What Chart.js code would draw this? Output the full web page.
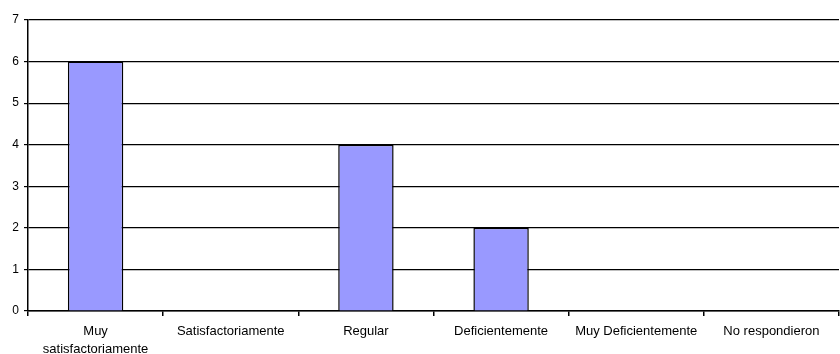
<!DOCTYPE html>
<html>
<head>
<meta charset="utf-8">
<script src="https://cdn.jsdelivr.net/npm/chart.js@4/dist/chart.umd.min.js"></script>
<style>
  html, body { margin: 0; padding: 0; background: #fff; }
  #wrap { width: 840px; height: 354px; }
</style>
</head>
<body>
<div id="wrap"><canvas id="chart" width="840" height="354"></canvas></div>
<script>
// categorias y valores
const categories = [
    ['Muy', 'satisfactoriamente'],
    'Satisfactoriamente',
    'Regular',
    'Deficientemente',
    'Muy Deficientemente',
    'No respondieron'
];
const values = [6, 0, 4, 2, 0, 0];
const yTicks = [0, 1, 2, 3, 4, 5, 6, 7];

Chart.defaults.font.family = '"Liberation Sans", Arial, sans-serif';
Chart.defaults.font.size = 11;
Chart.defaults.color = '#000';

new Chart(document.getElementById('chart'), {
    type: 'bar',
    data: {
        labels: categories,
        datasets: [{
            data: values,
            backgroundColor: '#9999ff',
            borderColor: '#000',
            borderWidth: 1.5,
            barPercentage: 0.41,
            categoryPercentage: 1.0
        }]
    },
    options: {
        responsive: false,
        animation: false,
        layout: { padding: { top: 20, right: 1, left: 0, bottom: 0 } },
        plugins: {
            legend: { display: false },
            tooltip: { enabled: false }
        },
        scales: {
            x: {
                offset: true,
                grid: {
                    offset: true,
                    drawOnChartArea: false,
                    color: '#000',
                    tickLength: 5,
                    lineWidth: 1.5
                },
                border: { color: '#000', width: 1.5 },
                ticks: {
                    maxRotation: 0,
                    autoSkip: false,
                    padding: 7,
                    font: { size: 13, lineHeight: 1.35 }
                },
                afterFit: function(scale) { scale.height = 43; }
            },
            y: {
                min: 0,
                max: 7,
                afterBuildTicks: function(scale) {
                    scale.ticks = yTicks.map(function(v) { return { value: v }; });
                },
                grid: {
                    color: '#000',
                    lineWidth: 1.2,
                    tickLength: 4
                },
                border: { color: '#000', width: 1.5 },
                ticks: { padding: 5, font: { size: 12 } },
                afterFit: function(scale) { scale.width = 28; }
            }
        }
    }
});
</script>
</body>
</html>
